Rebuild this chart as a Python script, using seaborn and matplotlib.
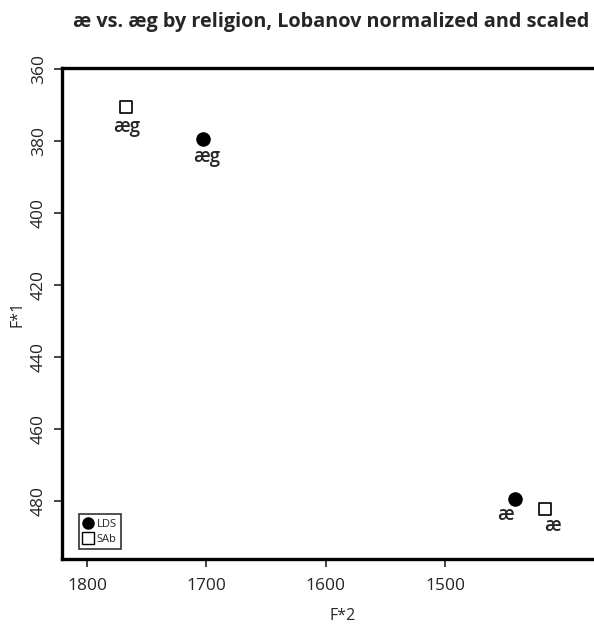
import matplotlib
matplotlib.use('Agg')
import matplotlib.pyplot as plt
import seaborn as sns
import pandas as pd
from matplotlib.lines import Line2D

# values
religion = ['LDS', 'LDS', 'SAb', 'SAb']
vowel    = ['æ', 'æg', 'æ', 'æg']
f2       = [1441, 1703, 1416, 1767]
f1       = [479.6, 379.4, 482.3, 370.5]

x_ticks = [1800, 1700, 1600, 1500]
y_ticks = [360, 380, 400, 420, 440, 460, 480]

df = pd.DataFrame({'religion': religion, 'vowel': vowel, 'F2': f2, 'F1': f1})

sns.set_style('white')
plt.rcParams['font.family'] = ['Open Sans', 'DejaVu Sans']

fig = plt.figure(figsize=(5.94, 6.24), dpi=100)
# axes box runs off the right edge, as in the reference
ax = fig.add_axes([62/594, 1 - 559/624, (624 - 62)/594, (559 - 68)/624])

lds = df[df.religion == 'LDS']
sab = df[df.religion == 'SAb']
sns.scatterplot(data=lds, x='F2', y='F1', marker='o', s=110, color='black',
                edgecolor='black', linewidth=0, ax=ax, legend=False)
sns.scatterplot(data=sab, x='F2', y='F1', marker='s', s=85, facecolor='white',
                edgecolor='black', linewidth=1.2, ax=ax, legend=False)

# label offsets (points) to mimic the reference placement
offsets = {('LDS', 'æg'): (3, -13), ('SAb', 'æg'): (0, -14),
           ('LDS', 'æ'): (-7, -11), ('SAb', 'æ'): (5, -12)}
for _, r in df.iterrows():
    ax.annotate(r.vowel, (r.F2, r.F1), xytext=offsets[(r.religion, r.vowel)],
                textcoords='offset points', ha='center', va='center',
                fontsize=13.5, fontweight='semibold')

ax.set_xlim(1821, 1350)
ax.set_ylim(496.2, 359.6)
ax.set_xticks(x_ticks)
ax.set_yticks(y_ticks)
ax.tick_params(axis='both', direction='out', length=6, width=1.2, labelsize=12.5,
               bottom=True, left=True)
ax.tick_params(axis='x', pad=8)
ax.tick_params(axis='y', pad=5)
for lab in ax.get_yticklabels():
    lab.set_rotation(90)
    lab.set_va('center')
for sp in ax.spines.values():
    sp.set_linewidth(2.4)
    sp.set_color('black')

ax.set_xlabel('F*2', fontsize=11.5)
ax.set_ylabel('F*1', fontsize=11.5)
ax.xaxis.set_label_coords((343 - 62) / 562, (559 - 608) / 491)
ax.yaxis.set_label_coords((26 - 62) / 562, 0.5)
fig.text(331/594, 1 - 22/624, 'æ vs. æg by religion, Lobanov normalized and scaled',
         ha='center', va='center', fontsize=14.3, fontweight='bold')

handles = [Line2D([], [], marker='o', color='black', linestyle='', markersize=8),
           Line2D([], [], marker='s', markerfacecolor='white', markeredgecolor='black',
                  linestyle='', markersize=8, markeredgewidth=1)]
leg = ax.legend(handles, ['LDS', 'SAb'], loc='lower left', bbox_to_anchor=(0.03, 0.02),
                fontsize=8, frameon=True, fancybox=False, handlelength=0.8,
                handletextpad=0.4, borderpad=0.4, labelspacing=0.35, borderaxespad=0)
leg.get_frame().set_edgecolor('black')
leg.get_frame().set_linewidth(1.2)

fig.savefig('out.png', dpi=100)
